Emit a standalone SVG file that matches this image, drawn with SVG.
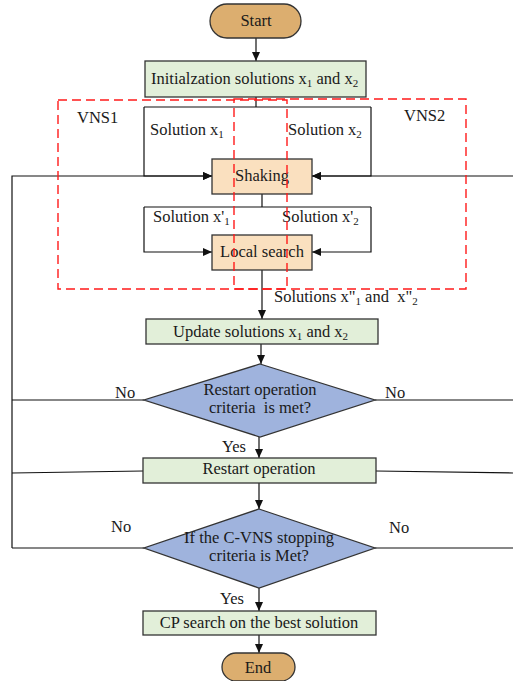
<svg xmlns="http://www.w3.org/2000/svg" width="513" height="681" viewBox="0 0 513 681">
<style>
  text { font-family: "Liberation Serif", "Times New Roman", serif; font-size: 16.5px; fill: #1a1a1a; }
  .c { text-anchor: middle; }
  .sub { font-size: 11px; }
  .term { fill: #dcae6f; stroke: #333; stroke-width: 1.3; }
  .proc { fill: #e2efd9; stroke: #333; stroke-width: 1.3; }
  .vns { fill: #fae0bf; stroke: #333; stroke-width: 1.3; }
  .dec { fill: #9fb3dd; stroke: #333; stroke-width: 1.3; }
  .ln { fill: none; stroke: #111; stroke-width: 1.2; }
  .arr { fill: none; stroke: #111; stroke-width: 1.2; marker-end: url(#ah); }
  .red { fill: none; stroke: #ff1a1a; stroke-width: 1.4; stroke-dasharray: 9 5; }
</style>
<defs>
  <marker id="ah" markerUnits="userSpaceOnUse" markerWidth="10" markerHeight="8" refX="9" refY="4" orient="auto">
    <path d="M0,0 L9,4 L0,8 z" fill="#111"/>
  </marker>
</defs>
<rect width="513" height="681" fill="#fff"/>

<g id="connectors">
  <path class="arr" d="M256,38 V61"/>
  <path class="ln" d="M256,97 V107 M144,107 H371"/>
  <path class="arr" d="M144,107 V176 H212"/>
  <path class="arr" d="M371,107 V176 H312"/>
  <path class="arr" d="M12,548 V176 H212"/>
  <path class="arr" d="M513,176 H312"/>
  <path class="ln" d="M262,194 V207 M144,207 H371"/>
  <path class="arr" d="M144,207 V252 H212"/>
  <path class="arr" d="M371,207 V252 H312"/>
  <path class="arr" d="M262,270 V319"/>
  <path class="arr" d="M261,344 V364"/>
  <path class="ln" d="M144,400 H12 M375,400 H513"/>
  <path class="arr" d="M259,437 V458"/>
  <path class="ln" d="M143,471 L12,473 M376,471 L513,473"/>
  <path class="arr" d="M259,483 V509"/>
  <path class="ln" d="M144,548 H12 M375,548 H513"/>
  <path class="arr" d="M259,588 V611"/>
  <path class="arr" d="M259,635 V653"/>
  <text x="150" y="135">Solution x<tspan class="sub" dy="3">1</tspan></text>
  <text x="288" y="135">Solution x<tspan class="sub" dy="3">2</tspan></text>
  <text x="153" y="222">Solution x'<tspan class="sub" dy="3">1</tspan></text>
  <text x="282" y="222">Solution x'<tspan class="sub" dy="3">2</tspan></text>
  <text x="274" y="302" xml:space="preserve">Solutions x"<tspan class="sub" dy="3">1</tspan><tspan dy="-3"> and  x"</tspan><tspan class="sub" dy="3">2</tspan></text>
  <text x="115" y="398">No</text>
  <text x="385" y="398">No</text>
  <text x="222" y="452">Yes</text>
  <text x="111" y="532">No</text>
  <text x="389" y="533">No</text>
  <text x="220" y="604">Yes</text>
</g>

<g id="start">
  <rect class="term" x="210" y="4" width="91" height="34" rx="17"/>
  <text class="c" x="256" y="26">Start</text>
</g>
<g id="init">
  <rect class="proc" x="145" y="61" width="221" height="36"/>
  <text x="151" y="84">Initialzation solutions x<tspan class="sub" dy="3">1</tspan><tspan dy="-3"> and x</tspan><tspan class="sub" dy="3">2</tspan></text>
</g>
<g id="shaking">
  <rect class="vns" x="212" y="159" width="100" height="35"/>
  <text class="c" x="262" y="181">Shaking</text>
</g>
<g id="local-search">
  <rect class="vns" x="212" y="235" width="100" height="35"/>
  <text class="c" x="262" y="257">Local search</text>
</g>
<g id="update">
  <rect class="proc" x="146" y="319" width="232" height="25"/>
  <text x="173" y="337">Update solutions x<tspan class="sub" dy="3">1</tspan><tspan dy="-3"> and x</tspan><tspan class="sub" dy="3">2</tspan></text>
</g>
<g id="restart-decision">
  <polygon class="dec" points="260,364 375,400 260,437 144,400"/>
  <text class="c" x="260" y="395">Restart operation</text>
  <text class="c" x="260" y="413" xml:space="preserve">criteria  is met?</text>
</g>
<g id="restart">
  <rect class="proc" x="143" y="458" width="233" height="25"/>
  <text class="c" x="259" y="474">Restart operation</text>
</g>
<g id="stop-decision">
  <polygon class="dec" points="259,509 375,548 259,588 144,548"/>
  <text class="c" x="259" y="543">If the C-VNS stopping</text>
  <text class="c" x="259" y="561">criteria is Met?</text>
</g>
<g id="cp-search">
  <rect class="proc" x="143" y="611" width="233" height="24"/>
  <text class="c" x="259" y="628">CP search on the best solution</text>
</g>
<g id="end">
  <rect class="term" x="222" y="653" width="73" height="28" rx="14"/>
  <text class="c" x="258" y="673">End</text>
</g>

<g id="vns1">
  <rect class="red" x="58" y="100" width="229" height="189"/>
  <text x="77" y="123">VNS1</text>
</g>
<g id="vns2">
  <rect class="red" x="234" y="99" width="232" height="190"/>
  <text x="404" y="121">VNS2</text>
</g>
</svg>
